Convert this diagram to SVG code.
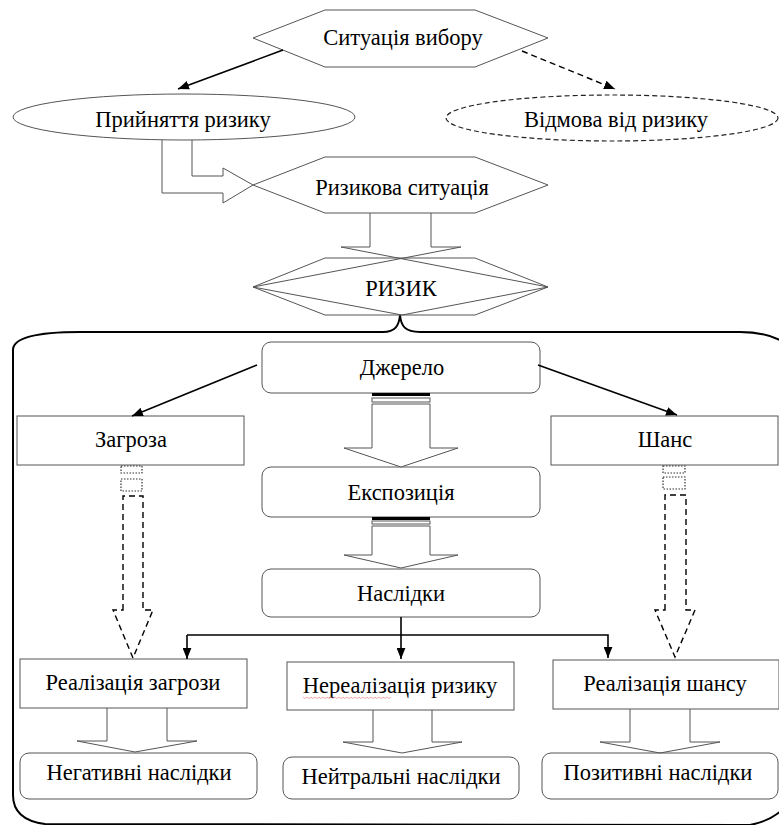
<svg xmlns="http://www.w3.org/2000/svg" width="779" height="825" viewBox="0 0 779 825">
<defs>
<marker id="ah" viewBox="0 0 10 8" refX="10" refY="4" markerWidth="11" markerHeight="9" markerUnits="userSpaceOnUse" orient="auto">
<path d="M0,0 L10,4 L0,8 z" fill="#000"/>
</marker>
</defs>
<rect width="779" height="825" fill="#fff"/>

<g id="container">
<path d="M13 795 L13 350 Q13 332 80 332 L383 332 C395 332 399 326 400 315 C401 326 405 332 420 332 L740 332 Q775 332 795 350 L795 790 Q785 818 750 825 L45 824 Q13 820 13 795 Z" fill="none" stroke="#000" stroke-width="2"/>
</g>

<g id="nodes" fill="#fff" stroke="#555" stroke-width="1">
<g id="n_situation">
<polygon fill="none" points="253,38 325,10 475,10 548,38 475,67 325,67"/>
<text x="403" y="45" text-anchor="middle" fill="#000" stroke="none" font-family="Liberation Serif" font-size="22.5" style="font-family:'Liberation Serif','DejaVu Serif',serif">Ситуація вибору</text>
</g>
<g id="n_accept">
<ellipse fill="none" cx="184" cy="117" rx="171" ry="23"/>
<text x="183" y="127" text-anchor="middle" fill="#000" stroke="none" font-family="Liberation Serif" font-size="22.5" style="font-family:'Liberation Serif','DejaVu Serif',serif">Прийняття ризику</text>
</g>
<g id="n_refuse">
<ellipse fill="none" stroke="#222" stroke-width="1.2" stroke-dasharray="5 3" cx="612" cy="118" rx="166" ry="23"/>
<text x="616" y="127" text-anchor="middle" fill="#000" stroke="none" font-family="Liberation Serif" font-size="22.5" style="font-family:'Liberation Serif','DejaVu Serif',serif">Відмова від ризику</text>
</g>
<g id="n_risksit">
<polygon fill="none" points="253,185 325,157 475,157 548,185 475,213 325,213"/>
<text x="402" y="195" text-anchor="middle" fill="#000" stroke="none" font-family="Liberation Serif" font-size="22.5" style="font-family:'Liberation Serif','DejaVu Serif',serif">Ризикова ситуація</text>
</g>
<g id="n_risk">
<polygon fill="none" points="253,287 325,258 475,258 548,287 475,315 325,315"/>
<path fill="none" d="M253 287 L402 315 L548 287"/>
<text x="401" y="296" text-anchor="middle" fill="#000" stroke="none" font-family="Liberation Serif" font-size="22.5" style="font-family:'Liberation Serif','DejaVu Serif',serif">РИЗИК</text>
</g>
<g id="n_source">
<rect x="262" y="342" width="278" height="51" rx="9"/>
<text x="402" y="375" text-anchor="middle" fill="#000" stroke="none" font-family="Liberation Serif" font-size="22.5" style="font-family:'Liberation Serif','DejaVu Serif',serif">Джерело</text>
</g>
<g id="n_exposure">
<rect x="262" y="467" width="278" height="50" rx="9"/>
<text x="401" y="500" text-anchor="middle" fill="#000" stroke="none" font-family="Liberation Serif" font-size="22.5" style="font-family:'Liberation Serif','DejaVu Serif',serif">Експозиція</text>
</g>
<g id="n_consequences">
<rect x="262" y="569" width="278" height="48" rx="9"/>
<text x="401" y="601" text-anchor="middle" fill="#000" stroke="none" font-family="Liberation Serif" font-size="22.5" style="font-family:'Liberation Serif','DejaVu Serif',serif">Наслідки</text>
</g>
<g id="n_threat">
<rect x="17" y="416" width="227" height="49"/>
<text x="131" y="447" text-anchor="middle" fill="#000" stroke="none" font-family="Liberation Serif" font-size="22.5" style="font-family:'Liberation Serif','DejaVu Serif',serif">Загроза</text>
</g>
<g id="n_chance">
<rect x="551" y="416" width="227" height="49"/>
<text x="665" y="447" text-anchor="middle" fill="#000" stroke="none" font-family="Liberation Serif" font-size="22.5" style="font-family:'Liberation Serif','DejaVu Serif',serif">Шанс</text>
</g>
<g id="n_threat_real">
<rect x="20" y="659" width="227" height="49"/>
<text x="133" y="690" text-anchor="middle" fill="#000" stroke="none" font-family="Liberation Serif" font-size="22.5" style="font-family:'Liberation Serif','DejaVu Serif',serif">Реалізація загрози</text>
</g>
<g id="n_nonreal">
<rect x="287" y="662" width="227" height="48"/>
<text x="400" y="693" text-anchor="middle" fill="#000" stroke="none" font-family="Liberation Serif" font-size="22.5" style="font-family:'Liberation Serif','DejaVu Serif',serif">Нереалізація ризику</text>
<path d="M303 697 l2 1.5 l2 -1.5 l2 1.5 l2 -1.5 l2 1.5 l2 -1.5 l2 1.5 l2 -1.5 l2 1.5 l2 -1.5 l2 1.5 l2 -1.5 l2 1.5 l2 -1.5 l2 1.5 l2 -1.5 l2 1.5 l2 -1.5 l2 1.5 l2 -1.5 l2 1.5 l2 -1.5 l2 1.5 l2 -1.5 l2 1.5 l2 -1.5 l2 1.5 l2 -1.5 l2 1.5 l2 -1.5 l2 1.5 l2 -1.5 l2 1.5 l2 -1.5 l2 1.5 l2 -1.5 l2 1.5 l2 -1.5 l2 1.5 l2 -1.5 l2 1.5 l2 -1.5 l2 1.5 l2 -1.5" fill="none" stroke="#e88" stroke-width="0.7"/>
</g>
<g id="n_chance_real">
<rect x="553" y="660" width="226" height="49"/>
<text x="665" y="691" text-anchor="middle" fill="#000" stroke="none" font-family="Liberation Serif" font-size="22.5" style="font-family:'Liberation Serif','DejaVu Serif',serif">Реалізація шансу</text>
</g>
<g id="n_negative">
<rect x="20" y="753" width="237" height="46" rx="9"/>
<text x="139" y="780" text-anchor="middle" fill="#000" stroke="none" font-family="Liberation Serif" font-size="22.5" style="font-family:'Liberation Serif','DejaVu Serif',serif">Негативні наслідки</text>
</g>
<g id="n_neutral">
<rect x="283" y="757" width="236" height="42" rx="9"/>
<text x="401" y="784" text-anchor="middle" fill="#000" stroke="none" font-family="Liberation Serif" font-size="22.5" style="font-family:'Liberation Serif','DejaVu Serif',serif">Нейтральні наслідки</text>
</g>
<g id="n_positive">
<rect x="542" y="753" width="236" height="46" rx="9"/>
<text x="658" y="780" text-anchor="middle" fill="#000" stroke="none" font-family="Liberation Serif" font-size="22.5" style="font-family:'Liberation Serif','DejaVu Serif',serif">Позитивні наслідки</text>
</g>
</g>

<g id="connectors" fill="none" stroke="#000" stroke-width="1.6">
<line x1="283" y1="50" x2="178" y2="89" marker-end="url(#ah)"/>
<line x1="522" y1="51" x2="615" y2="89" stroke-width="1.4" stroke-dasharray="6 4" marker-end="url(#ah)"/>
<line x1="257" y1="365" x2="132" y2="416" marker-end="url(#ah)"/>
<line x1="538" y1="365" x2="677" y2="415" marker-end="url(#ah)"/>
<line x1="401" y1="617" x2="401" y2="659" marker-end="url(#ah)"/>
<path d="M187 635 L608 635 L608 658" marker-end="url(#ah)"/>
<line x1="187" y1="635" x2="187" y2="659" marker-end="url(#ah)"/>
<g stroke="#555" stroke-width="1">
<path d="M192 140 L192 176 L223 176 L223 168 L253 185 L223 203 L223 193 L162 193 L162 140"/>
<path d="M370 213 L370 247 L341 247 L548 287 M431 213 L431 247 L461 247 L253 287"/>
<rect x="372" y="393" width="58" height="3" fill="#000" stroke="none"/>
<rect x="372" y="398" width="58" height="4" fill="#fff"/>
<path fill="#fff" d="M372 404 L430 404 L430 448 L458 448 L401 467 L344 448 L372 448 Z"/>
<rect x="372" y="517" width="58" height="3" fill="#000" stroke="none"/>
<rect x="372" y="521" width="58" height="3" fill="#fff"/>
<path fill="#fff" d="M372 526 L430 526 L430 555 L458 555 L401 568 L344 555 L372 555 Z"/>
<path d="M107 708 L107 741 L77 741 L135 752 L197 741 L167 741 L167 708"/>
<path d="M373 710 L373 742 L343 742 L402 753 L462 742 L432 742 L432 710"/>
<path d="M630 709 L630 742 L600 742 L660 753 L720 742 L690 742 L690 709"/>
</g>
<g stroke="#333" stroke-width="1.2" stroke-dasharray="1.5 1.5">
<rect x="121" y="466" width="21" height="7"/>
<rect x="121" y="479" width="21" height="12"/>
<rect x="663" y="466" width="22" height="7"/>
<rect x="663" y="477" width="22" height="12"/>
</g>
<g stroke-width="1.4" stroke-dasharray="6 4">
<path d="M123 610 L123 496 L143 496 L143 610 L153 610 L133 658 L113 610 Z"/>
<path d="M665 610 L665 495 L686 495 L686 610 L695 610 L675 657 L655 610 Z"/>
</g>
</g>
</svg>
